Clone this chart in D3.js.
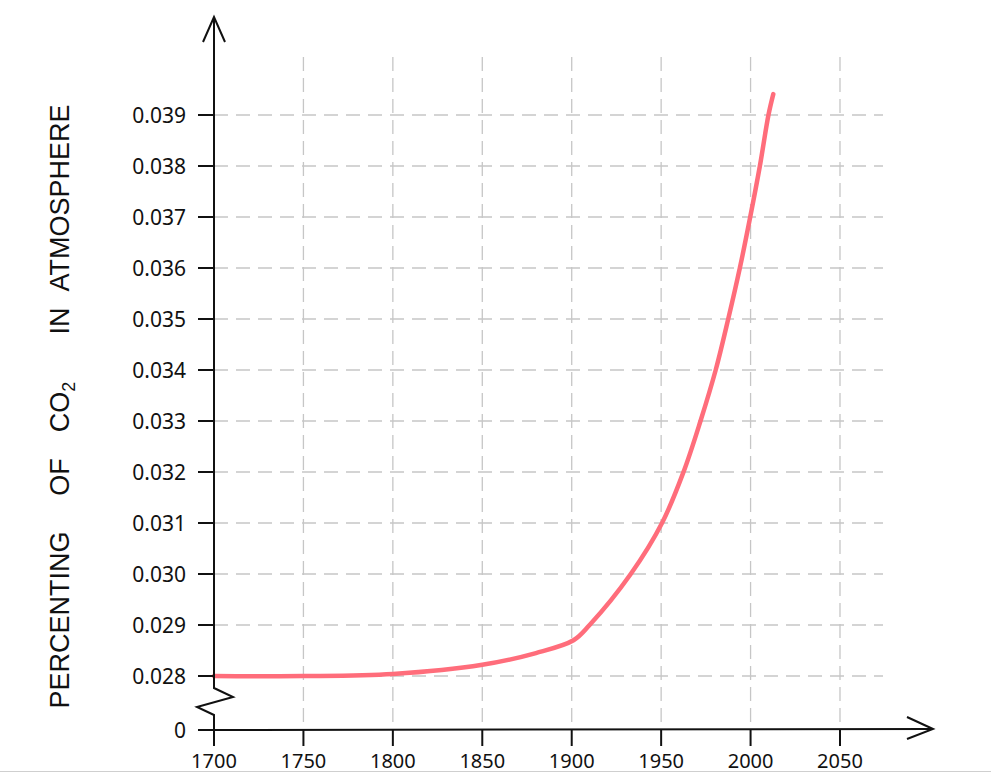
<!DOCTYPE html>
<html><head><meta charset="utf-8">
<script src="https://cdn.jsdelivr.net/npm/d3@7"></script>
<style>html,body{margin:0;padding:0;background:#fff;}svg{display:block;}</style>
</head><body>
<svg id="chart" width="991" height="773"></svg>
<script>
// ---- data ----
const years  = [1700, 1750, 1800, 1850, 1880, 1901, 1910, 1933, 1950.5, 1962.5, 1972, 1980.5, 1987.5, 1994, 1999.8, 2005.2, 2010, 2012.7];
const co2Pct = [0.0280, 0.02797, 0.02804, 0.02822, 0.02845, 0.0287, 0.0290, 0.0300, 0.0310, 0.0320, 0.0330, 0.0340, 0.0350, 0.0360, 0.0370, 0.0380, 0.0390, 0.03941];
const xTicks = [1700, 1750, 1800, 1850, 1900, 1950, 2000, 2050];
const yTicks = [0, 0.028, 0.029, 0.030, 0.031, 0.032, 0.033, 0.034, 0.035, 0.036, 0.037, 0.038, 0.039];
const yLabelWords = ["PERCENTING", "OF", "CO", "IN", "ATMOSPHERE"];

const svg = d3.select("#chart");
const x = d3.scaleLinear().domain([1700, 2050]).range([214, 840]);
// piecewise scale with axis break between 0 and 0.028
const y = d3.scaleLinear().domain([0, 0.028, 0.039]).range([730, 676, 115]);

// bottom page edge line
svg.append("line").attr("x1",0).attr("x2",991).attr("y1",771.5).attr("y2",771.5)
  .attr("stroke","#cfcfcf").attr("stroke-width",1);

// grid
const grid = svg.append("g").attr("stroke","#c6c6c6").attr("stroke-width",1.3).attr("fill","none");
grid.selectAll("line.v").data(xTicks.slice(1)).join("line")
  .attr("x1",d=>x(d)).attr("x2",d=>x(d)).attr("y1",57).attr("y2",730)
  .attr("stroke-dasharray","14,7");
grid.selectAll("line.h").data(yTicks.slice(1)).join("line")
  .attr("x1",214).attr("x2",883).attr("y1",d=>y(d)).attr("y2",d=>y(d))
  .attr("stroke-dasharray","14,8");

// curve
const line = d3.line().x((d,i)=>x(years[i])).y(d=>y(d)).curve(d3.curveCatmullRom.alpha(0.5));
svg.append("path").datum(co2Pct).attr("d", line)
  .attr("fill","none").attr("stroke","#ff6d7b").attr("stroke-width",4.5).attr("stroke-linecap","round");

// axes
const ax = svg.append("g").attr("stroke","#111").attr("stroke-width",2).attr("fill","none")
  .attr("stroke-linejoin","miter").attr("stroke-linecap","butt");
const x0 = x(1700);
// y axis with break zigzag
ax.append("path").attr("d", `M${x0},745 L${x0},715 L${x0-17},707 L${x0+19},697 L${x0},688 L${x0},17`);
ax.append("path").attr("d", `M${x0-11},42 L${x0},17 L${x0+11},42`);
// x axis
ax.append("path").attr("d", `M198,730 L933,729`);
ax.append("path").attr("d", `M907,717 L933,729 L907,739`);
// ticks
ax.selectAll("line.yt").data(yTicks).join("line")
  .attr("x1",198).attr("x2",x0).attr("y1",d=>y(d)).attr("y2",d=>y(d));
ax.selectAll("line.xt").data(xTicks).join("line")
  .attr("x1",d=>x(d)).attr("x2",d=>x(d)).attr("y1",730).attr("y2",746);

// tick labels
const fmt = d => d === 0 ? "0" : d3.format(".3f")(d);
svg.append("g").selectAll("text").data(yTicks).join("text")
  .attr("x",186).attr("y",d=>y(d)).attr("dy","0.36em").attr("text-anchor","end")
  .attr("font-family","Noto Sans, DejaVu Sans, sans-serif").attr("font-size",21).attr("fill","#111")
  .text(fmt);
svg.append("g").selectAll("text").data(xTicks).join("text")
  .attr("x",d=>x(d)).attr("y",768).attr("text-anchor","middle")
  .attr("font-family","Noto Sans, DejaVu Sans, sans-serif").attr("font-size",20).attr("fill","#111")
  .text(d=>d);

// y axis title (rotated words)
const wordCenters = [620, 477, 407, 321, 198];
const tg = svg.append("g").attr("font-family","Liberation Sans, Arial, sans-serif")
  .attr("font-size",27).attr("fill","#111");
yLabelWords.forEach((w,i)=>{
  const t = tg.append("text").attr("text-anchor","middle")
    .attr("transform",`translate(69,${wordCenters[i]}) rotate(-90)`);
  t.append("tspan").text(w);
  if (w === "CO") t.append("tspan").attr("font-size",18).attr("dy",6).text("2");
});
</script>
</body></html>
